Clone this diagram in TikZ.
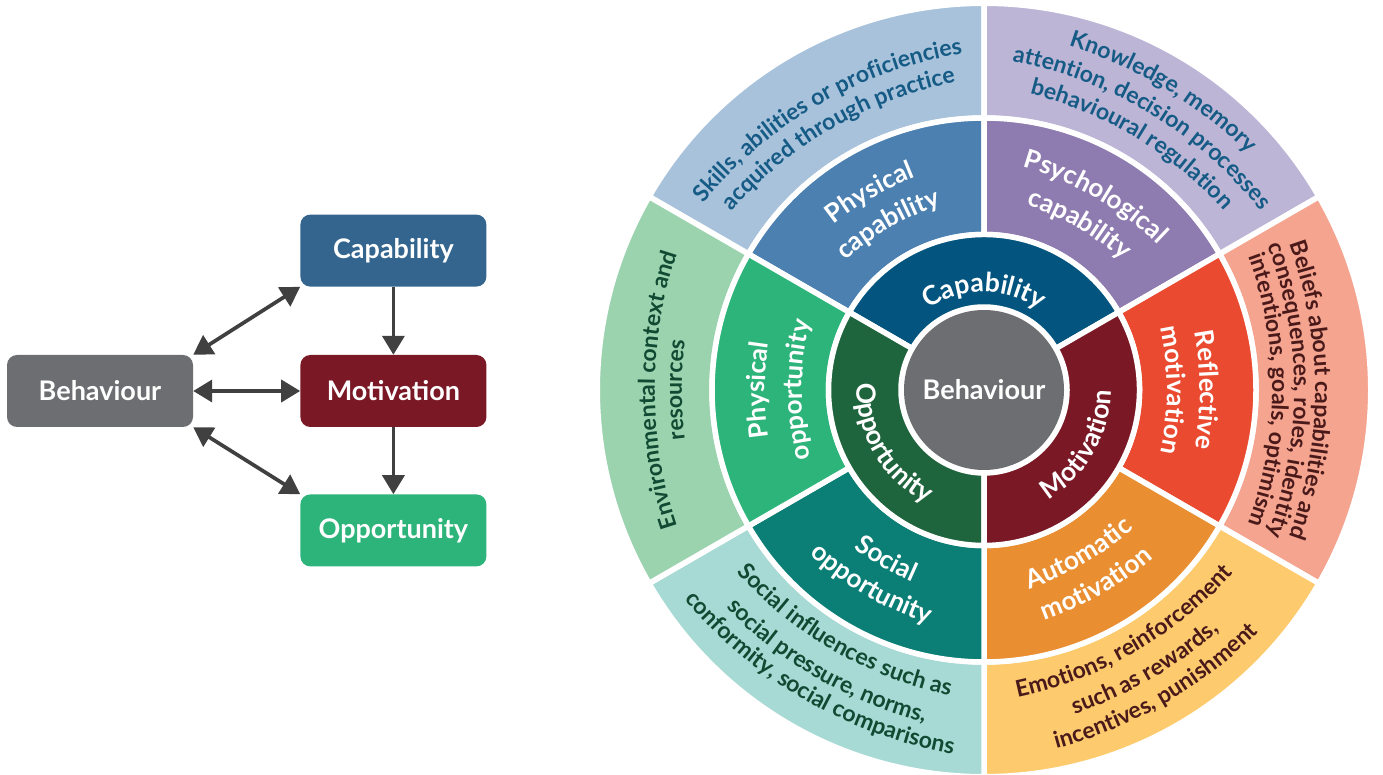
\documentclass[tikz,border=0pt]{standalone}
\usepackage{fontspec}
\setmainfont{Lato}
\usetikzlibrary{positioning, arrows.meta, decorations.text}

\definecolor{behgrey}{HTML}{6D6E71}
\definecolor{capblue}{HTML}{33658F}
\definecolor{motred}{HTML}{7A1925}
\definecolor{oppgreen}{HTML}{2DB47A}
\definecolor{arrowgrey}{HTML}{404040}
\definecolor{capdark}{HTML}{03557F}
\definecolor{oppdark}{HTML}{1E643D}
\definecolor{physcap}{HTML}{4B80B1}
\definecolor{psycap}{HTML}{8E7BB0}
\definecolor{reflmot}{HTML}{EA4A30}
\definecolor{automot}{HTML}{E98E31}
\definecolor{socopp}{HTML}{0B7E76}
\definecolor{skills}{HTML}{A8C2DC}
\definecolor{knowl}{HTML}{BCB5D6}
\definecolor{beliefs}{HTML}{F5A48F}
\definecolor{emotions}{HTML}{FDCB6E}
\definecolor{socinfl}{HTML}{A7DAD4}
\definecolor{environ}{HTML}{9CD3AF}
\definecolor{bluetext}{HTML}{155B85}
\definecolor{browntext}{HTML}{4A1A1A}
\definecolor{greentext}{HTML}{114A33}

\newcommand{\boxfont}{\fontsize{27}{27}\selectfont\bfseries}
\newcommand{\corefont}{\fontsize{27}{27}\selectfont\bfseries}
\newcommand{\ringonefmt}{\color{white}\fontsize{26.5}{26.5}\selectfont\bfseries}
\newcommand{\ringtwofmt}{\color{white}\fontsize{26}{26}\selectfont\bfseries}
\newcommand{\bluefmt}{\color{bluetext}\fontsize{23}{23}\selectfont\bfseries}
\newcommand{\brownfmt}{\color{browntext}\fontsize{23}{23}\selectfont\bfseries}
\newcommand{\greenfmt}{\color{greentext}\fontsize{23}{23}\selectfont\bfseries}

% annular sector: colour, start angle, end angle, inner radius, outer radius
\newcommand{\ringsector}[5]{%
  \filldraw[fill=#1, draw=white, line width=5.5pt]
    (#2:#4) arc[start angle=#2, end angle=#3, radius=#4]
    -- (#3:#5) arc[start angle=#3, end angle=#2, radius=#5] -- cycle;}

% text line on an arc: mid angle, baseline radius, flattening, 1 = clockwise / -1 = anticlockwise, format, text
\newcommand{\ringline}[6]{%
  \pgfmathsetmacro{\ringR}{#2+#3}%
  \pgfmathsetmacro{\ringA}{#1+(#4)*70}%
  \pgfmathsetmacro{\ringB}{#1-(#4)*70}%
  \path[shift={(#1+180:#3)}, decorate,
    decoration={text along path, text align=center, text={|#5|#6}}]
    (\ringA:\ringR) arc[start angle=\ringA, end angle=\ringB, radius=\ringR];}

\begin{document}
\begin{tikzpicture}[x=1pt, y=1pt,
    box/.style={rectangle, rounded corners=10pt, minimum width=186pt, minimum height=72pt,
      inner sep=0pt, text=white, font=\boxfont},
    biarrow/.style={line width=3.7pt, draw=arrowgrey,
      {Triangle[length=19pt,width=22pt]}-{Triangle[length=19pt,width=22pt]}},
    onearrow/.style={line width=3.7pt, draw=arrowgrey, -{Triangle[length=19pt,width=22pt]}}]
  \useasboundingbox (0,0) rectangle (1383,774);

  % COM-B model
  \node[box, fill=behgrey] (beh) at (100,383) {Behaviour};
  \node[box, fill=motred, right=107pt of beh] (mot) {Motivation};
  \node[box, fill=capblue, above=68pt of mot] (cap) {Capability};
  \node[box, fill=oppgreen, below=67pt of mot] (opp) {Opportunity};
  \draw[biarrow] (beh.north east) -- (cap.south west);
  \draw[biarrow] (beh.east) -- (mot.west);
  \draw[biarrow] (beh.south east) -- (opp.north west);
  \draw[onearrow] (cap.south) -- (mot.north);
  \draw[onearrow] (mot.south) -- (opp.north);

  % wheel
  \begin{scope}[shift={(984,384)}]
    \ringsector{skills}{90}{150}{272}{386.75}
    \ringsector{knowl}{30}{90}{272}{386.75}
    \ringsector{beliefs}{-30}{30}{272}{386.75}
    \ringsector{emotions}{270}{330}{272}{386.75}
    \ringsector{socinfl}{210}{270}{272}{386.75}
    \ringsector{environ}{150}{210}{272}{386.75}
    \ringsector{physcap}{90}{150}{155.5}{272}
    \ringsector{psycap}{30}{90}{155.5}{272}
    \ringsector{reflmot}{-30}{30}{155.5}{272}
    \ringsector{automot}{270}{330}{155.5}{272}
    \ringsector{socopp}{210}{270}{155.5}{272}
    \ringsector{oppgreen}{150}{210}{155.5}{272}
    \ringsector{capdark}{30}{150}{83}{155.5}
    \ringsector{oppdark}{150}{270}{83}{155.5}
    \ringsector{motred}{270}{390}{83}{155.5}

    \ringline{90}{98}{0}{1}{\ringonefmt}{Capability}
    \ringline{210}{127}{0}{-1}{\ringonefmt}{Opportunity}
    \ringline{330}{127}{0}{-1}{\ringonefmt}{Motivation}

    \ringline{120}{222}{100}{1}{\ringtwofmt}{Physical}
    \ringline{120}{187}{100}{1}{\ringtwofmt}{capability}
    \ringline{60}{222}{100}{1}{\ringtwofmt}{Psychological}
    \ringline{60}{187}{100}{1}{\ringtwofmt}{capability}
    \ringline{0}{216}{100}{1}{\ringtwofmt}{Reflective}
    \ringline{0}{183}{100}{1}{\ringtwofmt}{motivation}
    \ringline{300}{201}{100}{-1}{\ringtwofmt}{Automatic}
    \ringline{300}{236}{100}{-1}{\ringtwofmt}{motivation}
    \ringline{240}{204}{100}{-1}{\ringtwofmt}{Social}
    \ringline{240}{237}{100}{-1}{\ringtwofmt}{opportunity}
    \ringline{180}{219}{100}{1}{\ringtwofmt}{Physical}
    \ringline{180}{182}{100}{1}{\ringtwofmt}{opportunity}

    \ringline{120}{329}{100}{1}{\bluefmt}{Skills, abilities or proficiencies}
    \ringline{120}{302}{100}{1}{\bluefmt}{acquired through practice}
    \ringline{59}{351}{100}{1}{\bluefmt}{Knowledge, memory}
    \ringline{59}{322}{100}{1}{\bluefmt}{attention, decision processes}
    \ringline{59}{294}{100}{1}{\bluefmt}{behavioural regulation}
    \ringline{0}{331}{100}{1}{\brownfmt}{Beliefs about capabilities and}
    \ringline{0}{310}{100}{1}{\brownfmt}{consequences, roles, identity}
    \ringline{0}{288}{100}{1}{\brownfmt}{intentions, goals, optimism}
    \ringline{300}{303}{100}{-1}{\brownfmt}{Emotions, reinforcement}
    \ringline{300}{334}{100}{-1}{\brownfmt}{such as rewards,}
    \ringline{300}{362}{100}{-1}{\brownfmt}{incentives, punishment}
    \ringline{240}{301}{100}{-1}{\greenfmt}{Social influences such as}
    \ringline{240}{333}{100}{-1}{\greenfmt}{social pressure, norms,}
    \ringline{240}{358}{100}{-1}{\greenfmt}{conformity, social comparisons}
    \ringline{180}{329}{100}{1}{\greenfmt}{Environmental context and}
    \ringline{180}{302}{100}{1}{\greenfmt}{resources}
  \end{scope}
  \node[circle, fill=behgrey, minimum size=160pt, inner sep=0pt, text=white, font=\corefont]
    (core) at (984,384) {Behaviour};
\end{tikzpicture}
\end{document}
